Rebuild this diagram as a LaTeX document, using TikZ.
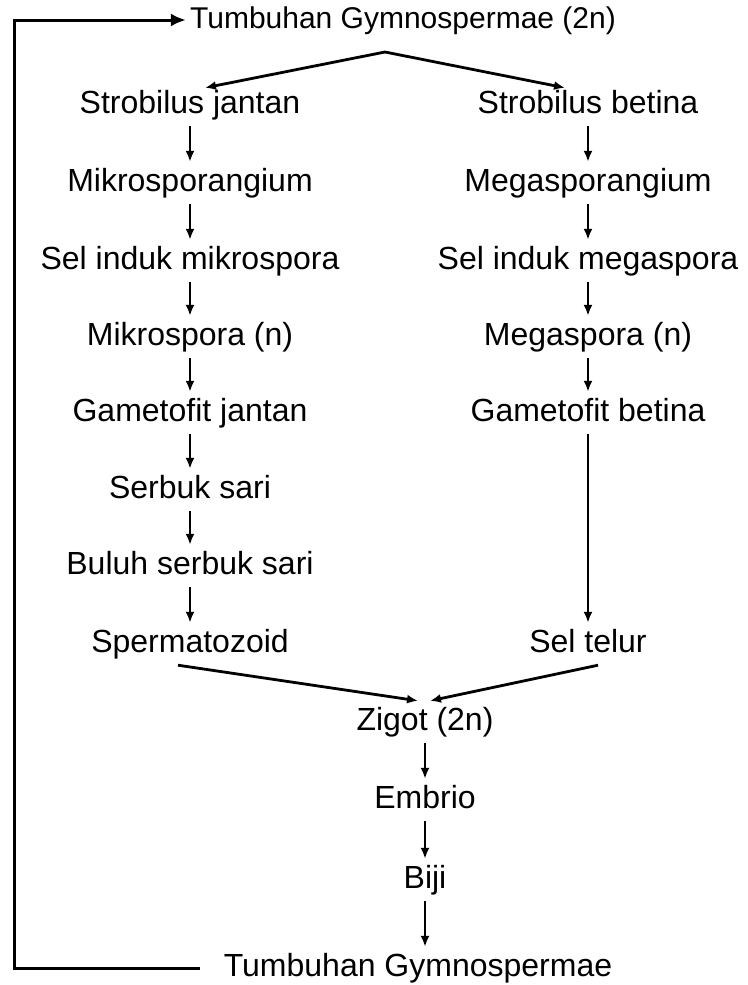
\documentclass[tikz,border=0pt]{standalone}
\usepackage{fontspec}
\setmainfont{Liberation Sans}
\usetikzlibrary{arrows.meta,calc}
\begin{document}
\begin{tikzpicture}[x=1pt,y=-1pt,
  lbl/.style={font=\fontsize{32}{38}\selectfont, text height=22pt, text depth=6pt, inner xsep=4pt, inner ysep=7pt},
  arr/.style={draw=black, line width=2.8pt, -{Latex[length=11pt,width=9pt]}},
  bigarr/.style={draw=black, line width=3pt, -{Latex[length=15pt,width=13pt]}}]
\useasboundingbox (0,0) rectangle (747,985);
% top
\node[lbl, font=\fontsize{30}{36}\selectfont] (top) at (403,20) {Tumbuhan Gymnospermae (2n)};
\coordinate (apex) at (385,52);
% left column
\node[lbl] (sj) at (190,105) {Strobilus jantan};
\node[lbl] (mks) at (190,183) {Mikrosporangium};
\node[lbl] (sim) at (190,261) {Sel induk mikrospora};
\node[lbl] (mk) at (190,337) {Mikrospora (n)};
\node[lbl] (gj) at (190,413) {Gametofit jantan};
\node[lbl] (ss) at (190,490) {Serbuk sari};
\node[lbl] (bss) at (190,566) {Buluh serbuk sari};
\node[lbl] (sp) at (190,644) {Spermatozoid};
% right column
\node[lbl] (sb) at (588,105) {Strobilus betina};
\node[lbl] (mgs) at (588,183) {Megasporangium};
\node[lbl] (sig) at (588,261) {Sel induk megaspora};
\node[lbl] (mg) at (588,337) {Megaspora (n)};
\node[lbl] (gb) at (588,413) {Gametofit betina};
\node[lbl] (st) at (588,644) {Sel telur};
% bottom column
\node[lbl] (zig) at (425,722) {Zigot (2n)};
\node[lbl] (emb) at (425,800) {Embrio};
\node[lbl] (biji) at (425,880) {Biji};
\node[lbl] (bot) at (418,968) {Tumbuhan Gymnospermae};
\coordinate (loop) at (14,500);
% arrows
\draw[arr] (apex) -- ([xshift=15pt,yshift=-4pt]sj.north);
\draw[arr] (apex) -- ([xshift=-23pt,yshift=-4pt]sb.north);
\foreach \a/\b in {sj/mks,mks/sim,sim/mk,mk/gj,gj/ss,ss/bss,bss/sp,sb/mgs,mgs/sig,sig/mg,mg/gb,gb/st,zig/emb,emb/biji}
  \draw[arr] (\a) -- (\b);
\draw[arr] (biji) -- (biji |- bot.north);
\draw[arr] ([xshift=-12pt]sp.south) -- ([xshift=-7pt]zig.north);
\draw[arr] ([xshift=10pt]st.south) -- ([xshift=5pt]zig.north);
\draw[bigarr] ([xshift=-20pt]bot.west) -| (loop) |- (top.west);
\end{tikzpicture}
\end{document}
